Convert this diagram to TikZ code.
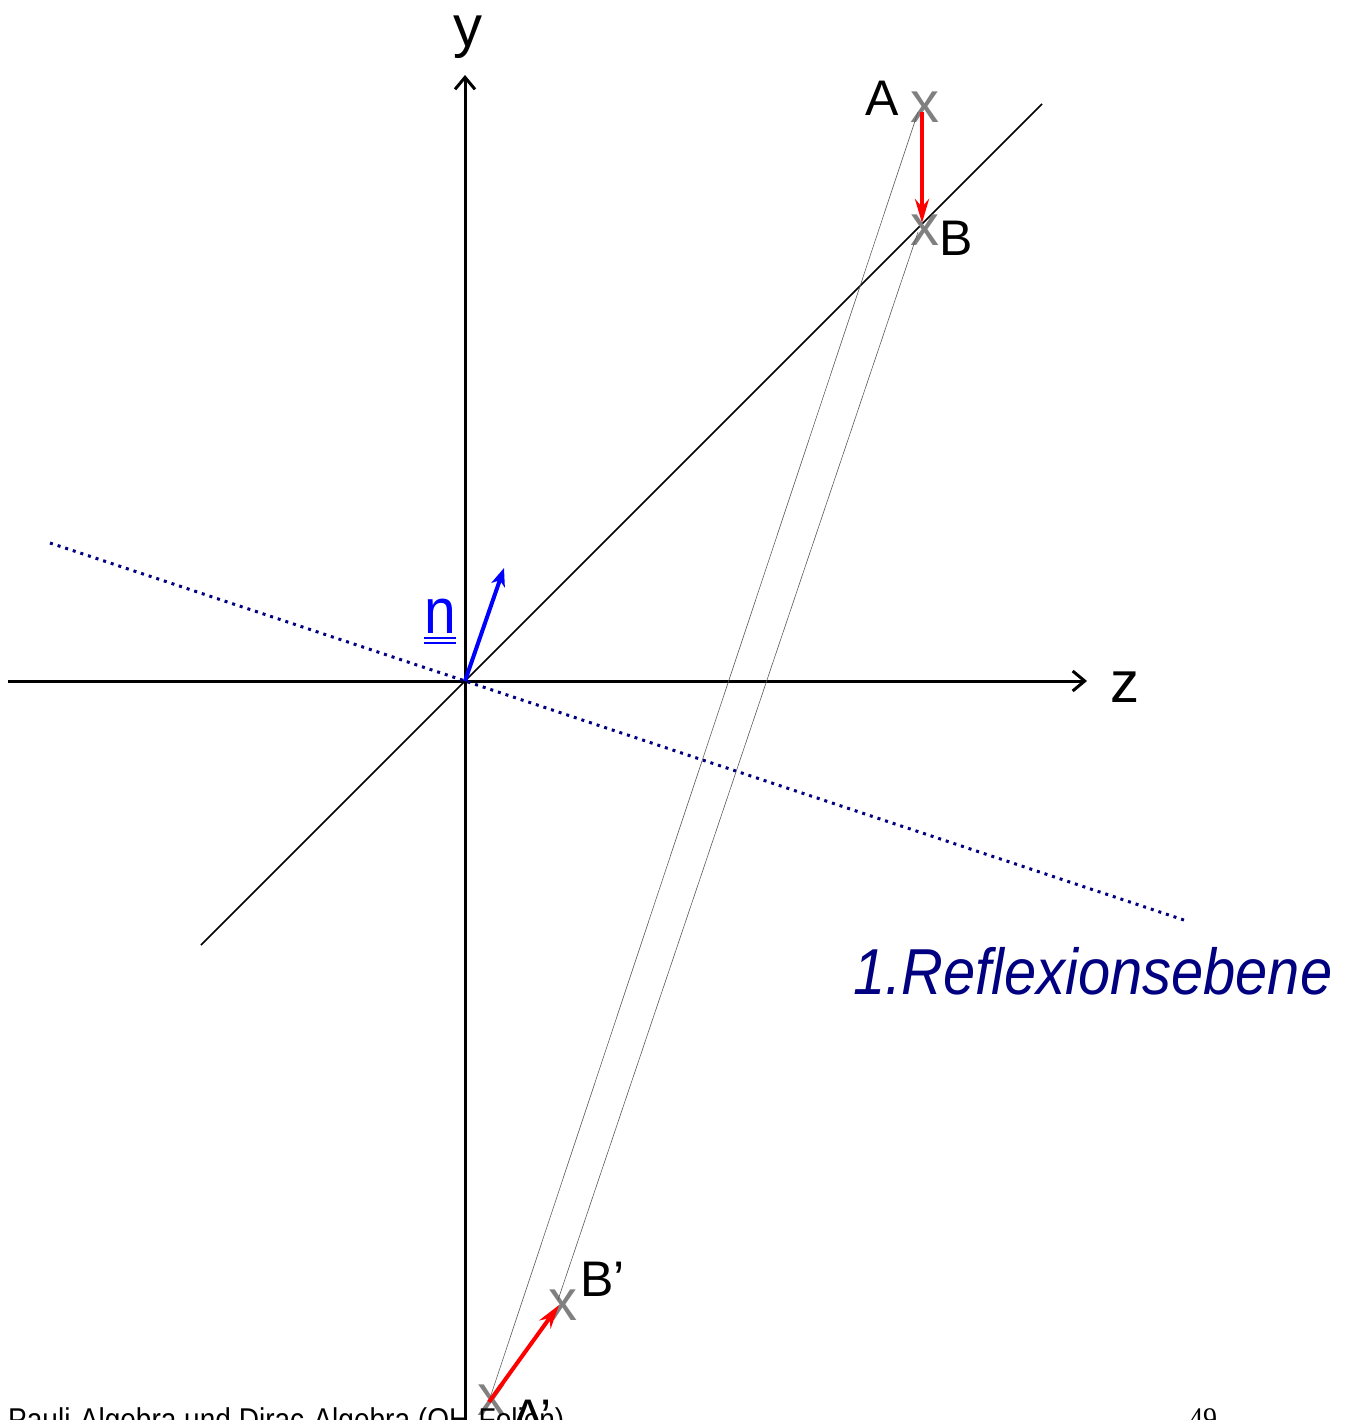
\documentclass[tikz,border=0pt]{standalone}
\usepackage{fontspec}
\setmainfont{Liberation Sans}[FakeStretch=0.89]
\newfontfamily\labfont{Liberation Sans}
\newfontfamily\serifnum{Liberation Serif}[FakeStretch=0.89]
\usetikzlibrary{arrows.meta,calc}
\definecolor{navyb}{RGB}{0,0,128}
\definecolor{grayx}{RGB}{128,128,128}
\definecolor{redr}{RGB}{255,0,0}
\definecolor{bluen}{RGB}{0,0,255}
\newcommand{\fs}[1]{\fontsize{#1}{#1}\selectfont}
\tikzset{
  axis/.style={line width=3pt, -{Straight Barb[length=12pt,width=20pt,line width=3pt]}},
  diag/.style={line width=1.5pt, black},
  thinline/.style={line width=0.6pt, black!65},
  plane/.style={line width=3pt, navyb, dash pattern=on 3pt off 5pt},
  redarr/.style={line width=4pt, redr, -{Stealth[length=24pt,width=14pt,inset=8pt]}},
  narr/.style={line width=4pt, bluen, -{Stealth[length=18pt,width=14pt,inset=5pt]}},
  xmark/.style={inner sep=0pt, text=grayx, font=\labfont\fs{58}},
  lbl/.style={inner sep=0pt, font=\labfont\fs{50}},
  axlbl/.style={inner sep=0pt, font=\labfont\fs{58}},
}
\begin{document}
\begin{tikzpicture}[x=1pt,y=-1pt]
\useasboundingbox (0,0) rectangle (1354,1420);
\clip (0,0) rectangle (1354,1420);
% coordinates
\coordinate (O) at (465,681);
\coordinate (zs) at (8,681);
\coordinate (ze) at (1087,681);
\coordinate (ys) at (465,1425);
\coordinate (ye) at (465,75);
\coordinate (d1) at (201,945);
\coordinate (d2) at (1042,104);
\coordinate (p1) at (50,543);
\coordinate (p2) at (1187,921);
\coordinate (ntip) at (504,568);
% axes
\draw[axis] (zs) -- (ze);
\draw[axis] (ys) -- (ye);
\node[axlbl, anchor=base] (ylab) at (468,47) {y};
\node[axlbl, anchor=base west] (zlab) at (1110,702) {z};
% diagonal and plane
\draw[diag] (d1) -- (d2);
\draw[plane] (p1) -- (p2);
% markers
\node[xmark] (A) at (925,107) {x};
\node[xmark] (B) at (925,230) {x};
\node[xmark] (Bp) at (563,1305) {x};
\node[xmark] (Ap) at (492,1400) {x};
% thin connecting lines
\draw[thinline] ($(A)+(-7,5)$) -- ($(Ap)+(-2,-2)$);
\draw[thinline] ($(B)+(-7,2)$) -- ($(Bp)+(-5,-5)$);
% labels
\node[lbl, anchor=base] (Al) at (882,116) {A};
\node[lbl, anchor=base west] (Bl) at (939,256) {B};
\node[lbl, anchor=base west] (Bpl) at (580,1296) {B’};
\node[lbl, anchor=base west] (Apl) at (511,1434) {A’};
% red arrows
\draw[redarr] ($(A)+(-3,5)$) -- ($(B)+(-3,-7)$);
\draw[redarr] ($(Ap)+(-3,2)$) -- ($(Bp)+(-4,0)$);
% normal vector
\draw[narr] (O) -- (ntip);
\node[inner sep=0pt, text=bluen, font=\fs{64}, anchor=base] (n) at (440,633) {n};
\draw[bluen, line width=2.5pt] ([yshift=-5pt]n.base west) -- ([yshift=-5pt]n.base east);
\draw[bluen, line width=2.5pt] ([yshift=-10pt]n.base west) -- ([yshift=-10pt]n.base east);
% plane label
\node[inner sep=0pt, text=navyb, font=\fs{65}\itshape, anchor=base west] (refl) at (853,994) {1.Reflexionsebene};
% footer
\node[inner sep=0pt, font=\fs{31.5}, anchor=base west] (foot) at (8,1430) {Pauli-Algebra und Dirac-Algebra (OH-Folien)};
\node[inner sep=0pt, font=\fs{31.5}\serifnum, anchor=base west] (page) at (1189,1429) {49};
\end{tikzpicture}
\end{document}
